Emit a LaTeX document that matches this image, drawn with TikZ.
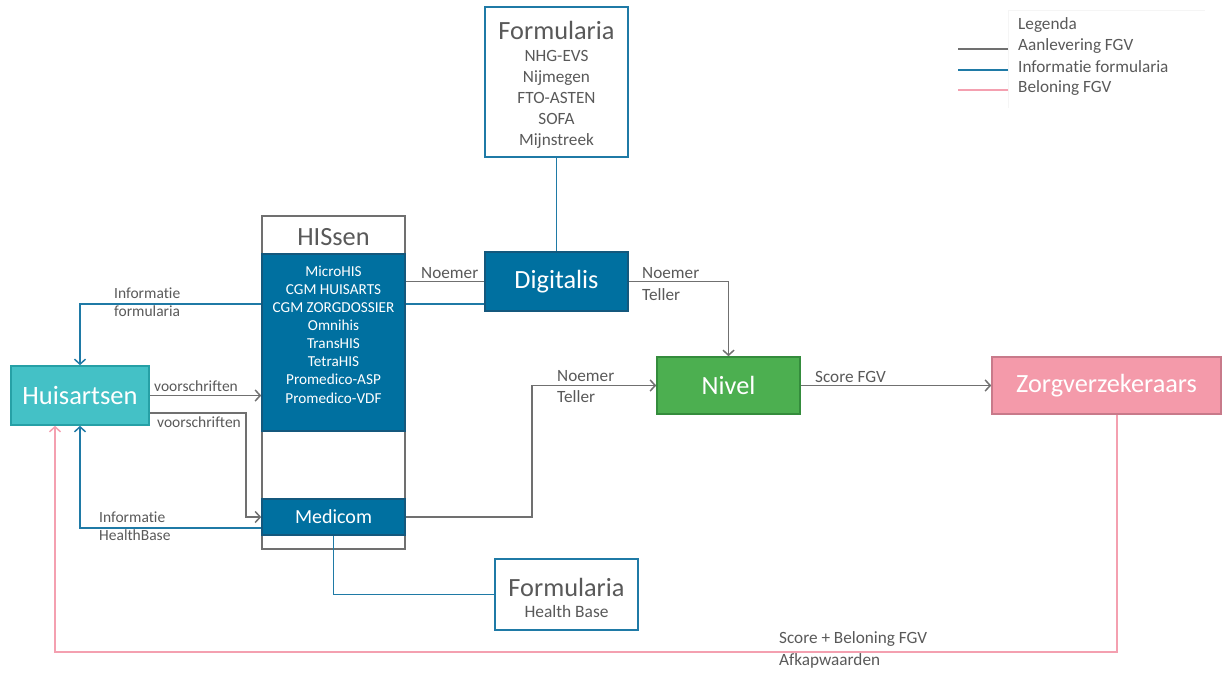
\documentclass[tikz,border=0pt]{standalone}
\usepackage{fontspec}
\setmainfont{Carlito}[RawFeature={-liga}]
\usetikzlibrary{arrows.meta,calc}
\definecolor{lgray}{RGB}{112,112,112}
\definecolor{tgray}{RGB}{89,89,89}
\definecolor{lblue}{RGB}{31,122,166}
\definecolor{fblue}{RGB}{0,112,160}
\definecolor{dblue}{RGB}{20,88,125}
\definecolor{lpink}{RGB}{244,160,176}
\definecolor{fpink}{RGB}{244,154,170}
\definecolor{dpink}{RGB}{200,122,138}
\definecolor{fgreen}{RGB}{76,175,80}
\definecolor{dgreen}{RGB}{52,140,60}
\definecolor{fteal}{RGB}{68,193,198}
\definecolor{dteal}{RGB}{38,160,166}
\definecolor{faint}{RGB}{245,245,245}
\begin{document}
\begin{tikzpicture}[x=1pt,y=-1pt,
  box/.style={rectangle, inner sep=0pt, line width=1.6pt},
  bluebox/.style={box, draw=dblue, fill=fblue},
  frmbox/.style={box, draw=lblue, fill=white, line width=2pt},
  gline/.style={draw=lgray, line width=1.5pt},
  bline/.style={draw=lblue, line width=1.5pt},
  pline/.style={draw=lpink, line width=1.5pt},
  arr/.style={-{Straight Barb[length=5pt,width=11pt,line width=1.5pt]}},
  lbl/.style={anchor=west, inner sep=0pt, text=tgray, font=\fontsize{15.5}{18}\selectfont},
  lblb/.style={lbl, font=\fontsize{17.2}{20}\selectfont},
  big/.style={inner sep=0pt, font=\fontsize{26.3}{30}\selectfont},
]
\useasboundingbox (0,0) rectangle (1224,674);

% legend
\draw[faint, line width=0.8pt] (1008,108) -- (1008,10) -- (1205,10);
\node[lblb] (lg0) at (1018,25) {Legenda};
\node[lblb] (lg1) at (1018,46) {Aanlevering FGV};
\node[lblb] (lg2) at (1018,67) {Informatie formularia};
\node[lblb] (lg3) at (1018,88) {Beloning FGV};
\draw[gline] ([xshift=-10pt,yshift=-3pt]lg1.west) -- ++(-50,0);
\draw[bline] ([xshift=-10pt,yshift=-3pt]lg2.west) -- ++(-50,0);
\draw[pline] ([xshift=-10pt,yshift=-2pt]lg3.west) -- ++(-50,0);

% Formularia top
\node[frmbox, minimum width=143pt, minimum height=150pt] (formtop) at (556.5,82) {};
\node[big, text=tgray] (ft1) at (556.5,30) {Formularia};
\node[inner sep=0pt, text=tgray, align=center, font=\fontsize{17.2}{21}\selectfont] (ft2) at (556.5,99)
  {NHG-EVS\\Nijmegen\\FTO-ASTEN\\SOFA\\Mijnstreek};

% HISsen
\node[box, draw=lgray, fill=white, minimum width=143pt, minimum height=333pt] (hisouter) at (333.5,382.5) {};
\node[big, text=tgray] (histitle) at (333.5,237) {HISsen};
\node[bluebox, minimum width=143pt, minimum height=177pt] (hisinner) at (333.5,342.5) {};
\node[inner sep=0pt, text=white, align=center, font=\fontsize{15.2}{18.1}\selectfont] (hisitems) at (333.5,334.5)
  {MicroHIS\\CGM HUISARTS\\CGM ZORGDOSSIER\\Omnihis\\TransHIS\\TetraHIS\\Promedico-ASP\\Promedico-VDF};
\node[bluebox, minimum width=143pt, minimum height=36pt, text=white, font=\fontsize{20}{22}\selectfont] (medicom) at (333.5,517) {Medicom};

% Formularia Health Base
\node[frmbox, minimum width=143pt, minimum height=71pt] (formhb) at (566.5,594.5) {};
\node[big, text=tgray] (fh1) at (566.5,587) {Formularia};
\node[inner sep=0pt, text=tgray, font=\fontsize{17.4}{20}\selectfont] (fh2) at (566.5,612) {Health Base};

% Digitalis
\node[bluebox, minimum width=143pt, minimum height=59pt, text=white, big] (digitalis) at (556.5,281.5) {Digitalis};
% Nivel
\node[box, draw=dgreen, fill=fgreen, minimum width=143pt, minimum height=57pt, text=white, big] (nivel) at (728.5,385.5) {Nivel};
% Zorgverzekeraars
\node[box, draw=dpink, fill=fpink, minimum width=229pt, minimum height=57pt, text=white, big] (zorg) at (1106.5,385.5) {Zorgverzekeraars};
% Huisartsen
\node[box, draw=dteal, fill=fteal, minimum width=138pt, minimum height=59pt, text=white, font=\fontsize{26.5}{30}\selectfont] (huis) at (80,395.5) {Huisartsen};

% connectors
\draw[bline] (formtop.south) -- (digitalis.north);
\draw[gline] (digitalis.west) -- (digitalis.west -| hisinner.east);
\node[lblb] (lnoem1) at (421,273) {Noemer};

\coordinate (dB) at ([yshift=-22.5pt]digitalis.west);
\draw[bline] (dB) -- (dB -| hisinner.east);
\draw[bline, arr] (dB -| hisinner.west) -| (huis.north);
\node[lbl] (linf1) at (114,293) {Informatie};
\node[lbl] (linf2) at (114,311) {formularia};

\draw[gline, arr] (digitalis.east) -| (nivel.north);
\node[lblb] (lnoem2) at (642,273) {Noemer};
\node[lblb] (ltel2) at (642,295) {Teller};

\draw[gline, arr] (medicom.east) -- ++(126,0) |- (nivel.west);
\node[lblb] (lnoem3) at (557,376) {Noemer};
\node[lblb] (ltel3) at (557,397) {Teller};

\draw[gline, arr] (nivel.east) -- (zorg.west);
\node[lblb] (lscore) at (815,377) {Score FGV};

\coordinate (hp) at ([xshift=-25pt]huis.south);
\coordinate (zp) at ([xshift=10.5pt]zorg.south);
\draw[pline, arr] (zp) -- ++(0,237) -| (hp);
\node[lblb] (lsb) at (779,639) {Score + Beloning FGV};
\node[lblb] (lafk) at (779,661) {Afkapwaarden};

\draw[gline, arr] (huis.east) -- (huis.east -| hisinner.west);
\node[lbl] (lv1) at (154,386) {voorschriften};

\coordinate (hv) at ([yshift=-17.5pt]huis.east);
\draw[gline, arr] (hv) -- ++(96,0) |- (medicom.west);
\node[lbl] (lv2) at (157,422) {voorschriften};

\coordinate (mb) at ([yshift=-11pt]medicom.west);
\draw[bline, arr] (mb) -| (huis.south);
\node[lbl] (lhb1) at (99,517) {Informatie};
\node[lbl] (lhb2) at (99,535) {HealthBase};

\draw[bline] (medicom.south) |- (formhb.west);
\end{tikzpicture}
\end{document}
